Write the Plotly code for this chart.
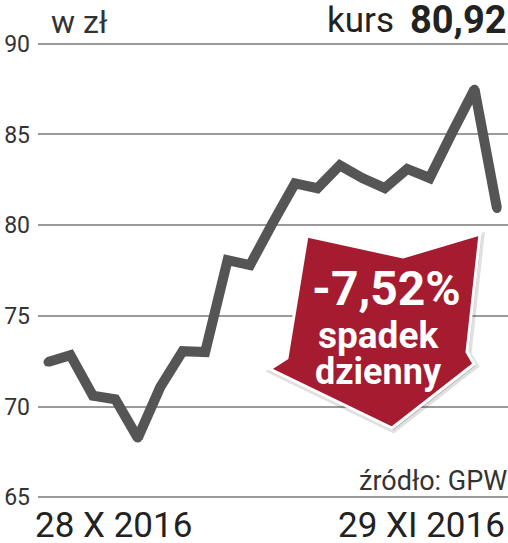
import plotly.graph_objects as go

# ---- data ----
dates = ["28 X", "31 X", "2 XI", "3 XI", "4 XI", "7 XI", "8 XI", "9 XI", "10 XI",
         "14 XI", "15 XI", "16 XI", "17 XI", "18 XI", "21 XI", "22 XI", "23 XI",
         "24 XI", "25 XI", "28 XI", "29 XI"]
prices = [72.45, 72.83, 70.6, 70.4, 68.26, 71.07, 73.05, 73.0, 78.07,
          77.8, 80.1, 82.3, 82.04, 83.3, 82.6, 82.04, 83.1,
          82.6, 85.1, 87.5, 80.92]
y_ticks = [65, 70, 75, 80, 85, 90]
first_label = "28 X 2016"
last_label = "29 XI 2016"
last_price_label = "80,92"
change_label = "-7,52%"

W, H = 508, 543
L, R, T, B = 38, 0, 42, 44
PW, PH = W - L - R, H - T - B


def px(x):
    return (x - L) / PW


def py(y):
    return (H - B - y) / PH


xs = list(range(len(prices)))

fig = go.Figure()
fig.add_trace(go.Scatter(
    x=xs, y=prices, mode="lines+markers",
    line=dict(color="#555555", width=10),
    marker=dict(color="#555555", size=9),
    hoverinfo="skip", showlegend=False,
))

font = "Roboto"

fig.update_layout(
    width=W, height=H,
    margin=dict(l=L, r=R, t=T, b=B),
    paper_bgcolor="white", plot_bgcolor="white",
    showlegend=False,
    xaxis=dict(range=[-0.445, 20.49], showgrid=False, zeroline=False,
               showticklabels=False, showline=False, fixedrange=True),
    yaxis=dict(range=[64.9, 90.1], tickvals=y_ticks, showgrid=True,
               gridcolor="#9a9a9a", gridwidth=1.5, zeroline=False,
               showline=False, ticks="", ticklabelstandoff=7,
               tickfont=dict(family=font, size=23, color="#333333"),
               fixedrange=True),
)

# arrow badge (decoration)
arrow = [(307, 236), (403, 257), (480, 234), (467, 352), (474, 364),
         (392, 428), (270, 369), (287, 358)]


def path(pts, dx=0, dy=0):
    s = "M " + " L ".join(f"{px(x + dx):.5f},{py(y + dy):.5f}" for x, y in pts) + " Z"
    return s


fig.add_shape(type="path", path=path(arrow, 1.5, 2), xref="paper", yref="paper",
              fillcolor="rgba(0,0,0,0.18)", line=dict(color="rgba(0,0,0,0.12)", width=6),
              layer="above")
fig.add_shape(type="path", path=path(arrow), xref="paper", yref="paper",
              fillcolor="#a51b30", line=dict(color="white", width=3),
              layer="above")

ann = [
    dict(text="w zł", x=px(49), y=py(22), xanchor="left", yanchor="middle",
         font=dict(family=font, size=32, color="#333333")),
    dict(text="kurs", x=px(396), y=py(20), xanchor="right", yanchor="middle",
         font=dict(family=font, size=35, color="#222222")),
    dict(text=f"<b>{last_price_label}</b>", x=px(509), y=py(20), xanchor="right",
         yanchor="middle", font=dict(family=font, size=38, color="#222222")),
    dict(text="źródło: GPW", x=px(509), y=py(481), xanchor="right", yanchor="middle",
         font=dict(family=font, size=27, color="#333333")),
    dict(text=first_label, x=px(33), y=py(525), xanchor="left", yanchor="middle",
         font=dict(family=font, size=35, color="#222222")),
    dict(text=last_label, x=px(507), y=py(525), xanchor="right", yanchor="middle",
         font=dict(family=font, size=35, color="#222222")),
    dict(text=f"<b>{change_label}</b>", x=px(386), y=py(288), xanchor="center",
         yanchor="middle", font=dict(family=font, size=48, color="white")),
    dict(text="<b>spadek</b>", x=px(378), y=py(335), xanchor="center",
         yanchor="middle", font=dict(family=font, size=37, color="white")),
    dict(text="<b>dzienny</b>", x=px(378), y=py(372), xanchor="center",
         yanchor="middle", font=dict(family=font, size=36, color="white")),
]
for a in ann:
    a.update(xref="paper", yref="paper", showarrow=False)
    fig.add_annotation(**a)

fig.write_html("out.html", config={"displayModeBar": False},
               post_script="document.body.style.margin='0';document.body.style.overflow='hidden';")
